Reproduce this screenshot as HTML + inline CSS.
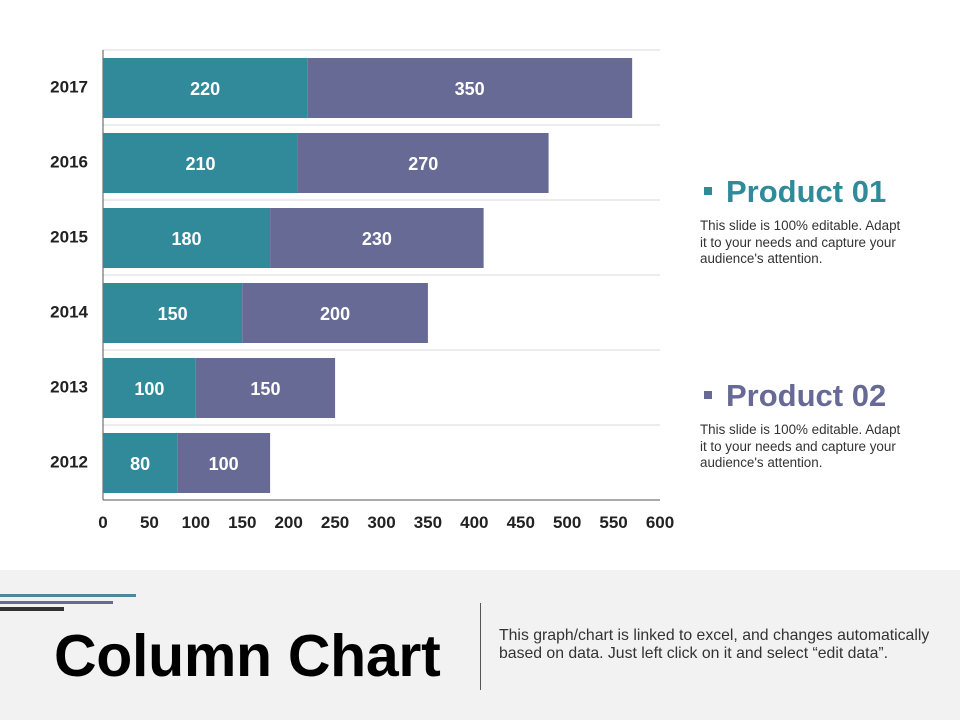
<!DOCTYPE html>
<html><head><meta charset="utf-8"><style>
body{margin:0;width:960px;height:720px;overflow:hidden;background:#fff;font-family:"Liberation Sans",Arial,sans-serif;position:relative}
.abs{position:absolute}
</style></head><body>
<svg id="chart" class="abs" style="left:0;top:0" width="960" height="570"></svg>
<div class="abs" style="left:700px;top:172px;width:250px">
 <div style="color:#318a9a;font-size:31px;font-weight:bold;line-height:40px"><span style="display:inline-block;width:8px;height:8px;background:#318a9a;vertical-align:middle;margin:0 14px 6px 4px"></span>Product 01</div>
 <div style="font-size:13.4px;line-height:16.5px;color:#333;margin-top:6px">This slide is 100% editable. Adapt<br>it to your needs and capture your<br>audience's attention.</div>
</div>
<div class="abs" style="left:700px;top:376px;width:250px">
 <div style="color:#676a94;font-size:31px;font-weight:bold;line-height:40px"><span style="display:inline-block;width:8px;height:8px;background:#676a94;vertical-align:middle;margin:0 14px 6px 4px"></span>Product 02</div>
 <div style="font-size:13.4px;line-height:16.5px;color:#333;margin-top:6px">This slide is 100% editable. Adapt<br>it to your needs and capture your<br>audience's attention.</div>
</div>
<div class="abs" style="left:0;top:570px;width:960px;height:150px;background:#f2f2f2">
 <div class="abs" style="left:0;top:24px;width:136px;height:3px;background:#4a8a96"></div>
 <div class="abs" style="left:0;top:31px;width:113px;height:3px;background:#676a94"></div>
 <div class="abs" style="left:0;top:37px;width:64px;height:4px;background:#333"></div>
 <div class="abs" style="left:54px;top:51px;font-size:59px;font-weight:bold;color:#000;line-height:70px;letter-spacing:-0.3px">Column Chart</div>
 <div class="abs" style="left:480px;top:33px;width:1px;height:87px;background:#555"></div>
 <div class="abs" style="left:499px;top:57px;font-size:15.8px;line-height:18px;color:#333;width:460px;white-space:nowrap">This graph/chart is linked to excel, and changes automatically<br>based on data. Just left click on it and select “edit data”.</div>
</div>
<script>
const categories=["2012","2013","2014","2015","2016","2017"];
const product01=[80,100,150,180,210,220];
const product02=[100,150,200,230,270,350];
const ticks=[0,50,100,150,200,250,300,350,400,450,500,550,600];
const svg=document.getElementById('chart');
const NS='http://www.w3.org/2000/svg';
const x0=103,x1=660,yTop=50,yBot=500,maxV=600;
const xs=v=>x0+(v/maxV)*(x1-x0);
const band=(yBot-yTop)/categories.length;
const yRow=i=>yBot-(i+1)*band;
function mk(t,a){const e=document.createElementNS(NS,t);for(const k in a)e.setAttribute(k,a[k]);svg.appendChild(e);return e;}
for(let i=0;i<=categories.length;i++){
 const g=mk('line',{x1:x0,x2:x1,y1:yTop+i*band,y2:yTop+i*band,stroke:i==categories.length?'#555':'#d9d9d9','stroke-width':1});
 
 
}
const ax=mk('line',{x1:x0,x2:x0,y1:yTop,y2:yBot,stroke:'#555'});


categories.forEach((c,i)=>{
 const y=yRow(i)+8,h=band-15;
 const a=product01[i],b=product02[i];
 const r1=mk('rect',{x:xs(0),y:y,width:xs(a)-xs(0),height:h,fill:'#318a9a'});
 
 
 const r2=mk('rect',{x:xs(a),y:y,width:xs(a+b)-xs(a),height:h,fill:'#676a94'});
 
 
 const t1=mk('text',{x:(xs(0)+xs(a))/2,y:y+h/2+7,'text-anchor':'middle',fill:'#fff','font-size':18,'font-weight':'bold'});t1.textContent=a;
 
 
 const t2=mk('text',{x:(xs(a)+xs(a+b))/2,y:y+h/2+7,'text-anchor':'middle',fill:'#fff','font-size':18,'font-weight':'bold'});t2.textContent=b;
 
 
 const cl=mk('text',{x:88,y:yRow(i)+band/2+5,'text-anchor':'end',fill:'#222','font-size':17,'font-weight':'bold'});cl.textContent=c;
 
 
});
ticks.forEach(t=>{
 const e=mk('text',{x:xs(t),y:528,'text-anchor':'middle',fill:'#222','font-size':17,'font-weight':'bold'});e.textContent=t;
 
 
});
</script>
</body></html>
